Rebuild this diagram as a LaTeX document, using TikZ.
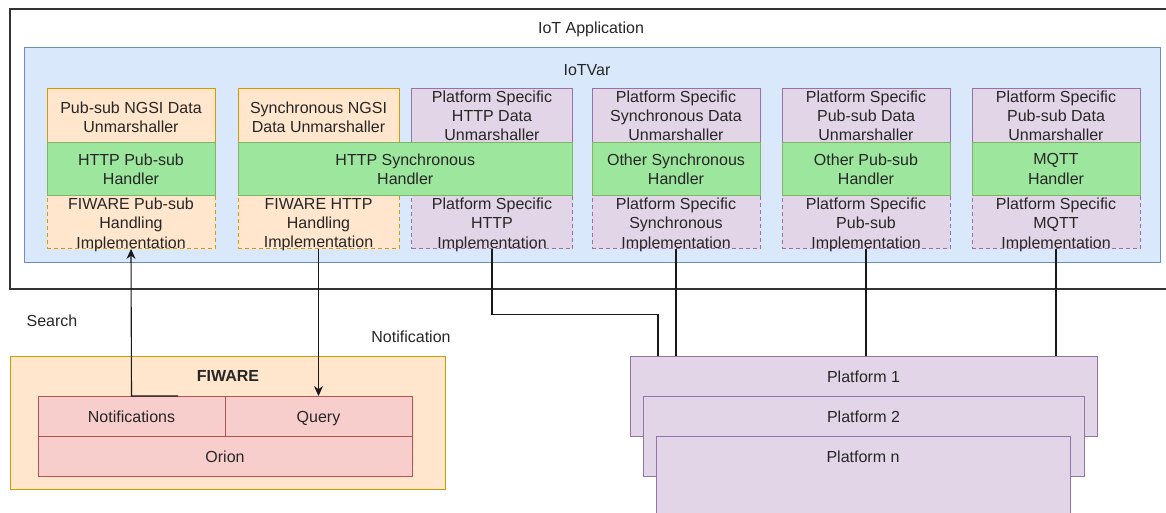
\documentclass[tikz,border=0pt]{standalone}
\usepackage{fontspec}
\setmainfont{Liberation Sans}
\usetikzlibrary{positioning,arrows.meta}

\definecolor{orangefill}{HTML}{FFE6CC}
\definecolor{orangeline}{HTML}{D79B00}
\definecolor{purplefill}{HTML}{E1D5E7}
\definecolor{purpleline}{HTML}{9673A6}
\definecolor{bluefill}{HTML}{DAE8FC}
\definecolor{blueline}{HTML}{6C8EBF}
\definecolor{greenfill}{HTML}{9DE69D}
\definecolor{greenline}{HTML}{82B366}
\definecolor{redfill}{HTML}{F8CECC}
\definecolor{redline}{HTML}{B85450}

\begin{document}
\begin{tikzpicture}[x=1pt,y=-1pt,
  font=\fontsize{16}{19.2}\selectfont, text=black!85,
  box/.style={draw,line width=1pt,anchor=north west,inner sep=0pt,outer sep=0pt},
  cell/.style={box,minimum height=53.3pt,align=center},
  ctext/.style={align=center,inner sep=0pt},
  fiwunm/.style={cell,fill=orangefill,draw=orangeline},
  fiwimpl/.style={fiwunm,dash pattern=on 4pt off 3pt},
  psunm/.style={cell,fill=purplefill,draw=purpleline},
  psimpl/.style={psunm,dash pattern=on 4pt off 3pt},
  handler/.style={cell,fill=greenfill,draw=greenline},
  orion/.style={box,fill=redfill,draw=redline,minimum height=40pt,text height=13.5pt,text depth=1.5pt},
  platform/.style={box,fill=purplefill,draw=purpleline,minimum height=80pt},
  link/.style={draw=black!90,line width=1.1pt}]
  \useasboundingbox (0,0) rectangle (1166,513);

  % containers
  \node[box,draw=black!80,line width=1.2pt,minimum width=1175pt,minimum height=280pt] (app) at (10,9) {};
  \node at (591,29) {IoT Application};
  \node[box,fill=bluefill,draw=blueline,minimum width=1136pt,minimum height=214pt] (iotvar) at (24,48) {};
  \node at (587,70) {IoTVar};

  % unmarshallers
  \node[fiwunm,minimum width=168pt] (pubunm) at (47,89) {};
  \node[fiwunm,minimum width=161pt] (syncunm) at (238,89) {};
  \node[psunm,minimum width=161pt] (pshttpunm) at (411.5,89) {};
  \node[psunm,minimum width=168pt] (pssyncunm) at (592,89) {};
  \node[psunm,minimum width=168pt] (pspubunm) at (782,89) {};
  \node[psunm,minimum width=168pt] (psmqttunm) at (972,89) {};

  % implementations
  \node[fiwimpl,minimum width=168pt,below=53.3pt of pubunm] (pubimpl) {};
  \node[fiwimpl,minimum width=161pt,below=53.3pt of syncunm] (syncimpl) {};
  \node[psimpl,minimum width=161pt,below=53.3pt of pshttpunm] (pshttpimpl) {};
  \node[psimpl,minimum width=168pt,below=53.3pt of pssyncunm] (pssyncimpl) {};
  \node[psimpl,minimum width=168pt,below=53.3pt of pspubunm] (pspubimpl) {};
  \node[psimpl,minimum width=168pt,below=53.3pt of psmqttunm] (psmqttimpl) {};

  % handlers
  \node[handler,minimum width=168pt,below=0pt of pubunm] (pubhdl) {HTTP Pub-sub\\Handler};
  \node[handler,minimum width=334.5pt] (synchdl) at (syncunm.south west) {HTTP Synchronous\\Handler};
  \node[handler,minimum width=168pt,below=0pt of pssyncunm] (othersynchdl) {Other Synchronous\\Handler};
  \node[handler,minimum width=168pt,below=0pt of pspubunm] (otherpubhdl) {Other Pub-sub\\Handler};
  \node[handler,minimum width=168pt,below=0pt of psmqttunm] (mqtthdl) {MQTT\\Handler};

  % texts over the cells
  \node[ctext] at ([yshift=-1.5pt]pubunm) {Pub-sub NGSI Data\\Unmarshaller};
  \node[ctext] at ([yshift=-1.5pt]syncunm) {Synchronous NGSI\\Data Unmarshaller};
  \node[ctext] at (pshttpunm) {Platform Specific\\HTTP Data\\Unmarshaller};
  \node[ctext] at (pssyncunm) {Platform Specific\\Synchronous Data\\Unmarshaller};
  \node[ctext] at (pspubunm) {Platform Specific\\Pub-sub Data\\Unmarshaller};
  \node[ctext] at (psmqttunm) {Platform Specific\\Pub-sub Data\\Unmarshaller};
  \node[ctext] at ([yshift=-2.5pt]pubimpl) {FIWARE Pub-sub\\Handling\\Implementation};
  \node[ctext] at ([yshift=-2.5pt]syncimpl) {FIWARE HTTP\\Handling\\Implementation};
  \node[ctext] at ([yshift=-2.5pt]pshttpimpl) {Platform Specific\\HTTP\\Implementation};
  \node[ctext] at ([yshift=-2.5pt]pssyncimpl) {Platform Specific\\Synchronous\\Implementation};
  \node[ctext] at ([yshift=-2.5pt]pspubimpl) {Platform Specific\\Pub-sub\\Implementation};
  \node[ctext] at ([yshift=-2.5pt]psmqttimpl) {Platform Specific\\MQTT\\Implementation};

  % FIWARE
  \node[box,fill=orangefill,draw=orangeline,minimum width=435pt,minimum height=133pt] (fiware) at (10.7,356) {};
  \node[font=\fontsize{16}{19.2}\selectfont\bfseries] at (228,376) {FIWARE};
  \node[orion,minimum width=187pt] (notif) at (38,396) {Notifications};
  \node[orion,minimum width=187pt] (query) at (notif.north east) {Query};
  \node[orion,minimum width=374pt,below=0pt of notif.south west,anchor=north west] (orion) {Orion};
  \node at (52,321) {Search};
  \node at (411,337) {Notification};

  % platforms
  \node[platform,minimum width=467pt] (plat1) at (630,356) {};
  \node at ([yshift=-21pt]plat1.north) {Platform 1};
  \node[platform,minimum width=441pt] (plat2) at (643,396) {};
  \node at ([yshift=-21pt]plat2.north) {Platform 2};
  \node[platform,minimum width=414pt] (platn) at (656,436) {};
  \node at ([yshift=-21pt]platn.north) {Platform n};

  % connectors
  \draw[link,-{Stealth[length=10pt,width=9pt]}] ([xshift=46.5pt]notif.north) -- (notif.north) -- (pubimpl.south);
  \draw[link,-{Stealth[length=10pt,width=9pt]}] (syncimpl.south) -- (query.north);
  \draw[link] (pshttpimpl.south) -- ++(0,66) -| ([xshift=28pt]plat1.north west);
  \draw[link] (pssyncimpl.south) -- (pssyncimpl.south |- plat1.north);
  \draw[link] (pspubimpl.south) -- (pspubimpl.south |- plat1.north);
  \draw[link] (psmqttimpl.south) -- (psmqttimpl.south |- plat1.north);
\end{tikzpicture}
\end{document}
